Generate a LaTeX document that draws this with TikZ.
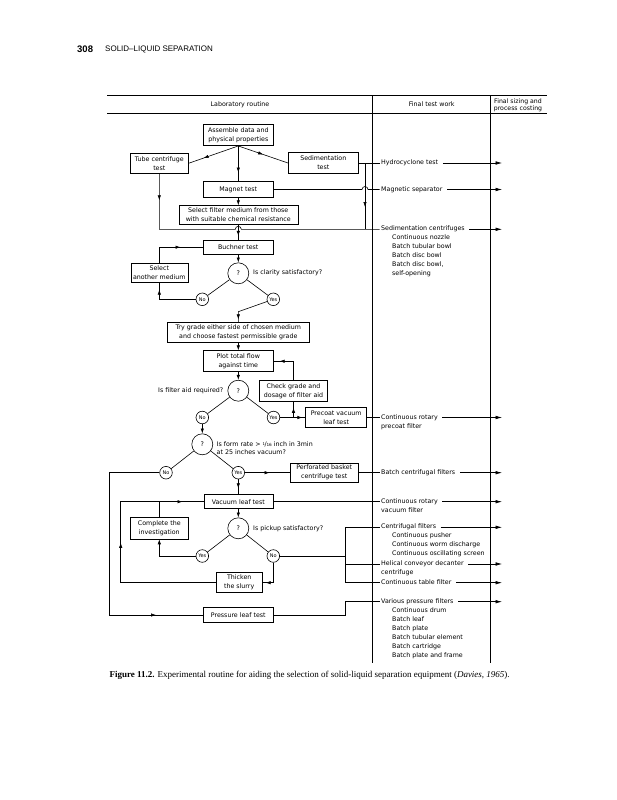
\documentclass[tikz,border=0pt]{standalone}
\usepackage{fontspec}
\usepackage{tikz}
\usetikzlibrary{arrows.meta,decorations.markings}
\setmainfont{Liberation Serif}
\newfontfamily\labfont{DejaVu Sans}
\newfontfamily\headfont{Liberation Sans}
\newcommand{\flowfont}{\labfont\fontsize{6.3}{9}\selectfont}
\newcommand{\smallflow}{\labfont\fontsize{5}{6}\selectfont}
\tikzset{
  box/.style={draw, line width=0.6pt, align=center, inner sep=0pt, font=\flowfont},
  ask/.style={draw, circle, line width=0.6pt, minimum size=21pt, inner sep=0pt, font=\flowfont},
  ans/.style={draw, circle, line width=0.6pt, minimum size=12.6pt, inner sep=0pt, font=\smallflow},
  lbl/.style={inner xsep=1.5pt, inner ysep=0pt, font=\flowfont, text height=4.6pt, text depth=1.3pt},
  flow/.style={line width=0.6pt},
  midarr/.style={postaction={decorate, decoration={markings, mark=at position #1 with {\arrow{Latex[length=5pt,width=3.4pt]}}}}},
  endarr/.style={-{Latex[length=5pt,width=3.4pt]}},
  outarr/.style={line width=0.6pt, -{Latex[length=6.5pt,width=3.6pt]}}
}
\begin{document}
\begin{tikzpicture}[x=1pt, y=-1pt]
              \useasboundingbox (0,0) rectangle (617,800);
              \fill[white] (0,0) rectangle (617,800);
              \node[anchor=west, inner sep=0pt, font=\headfont\bfseries\fontsize{9.5}{10}\selectfont] (pageno) at (77,49) {308};
              \node[anchor=west, inner sep=0pt, font=\headfont\fontsize{8}{10}\selectfont] (runhead) at (105,49) {SOLID–LIQUID SEPARATION};

              \coordinate (tl) at (107,95.5);
              \coordinate (tr) at (547,95.5);
              \coordinate (ml) at (107,113.5);
              \coordinate (mr) at (547,113.5);
              \coordinate (c2t) at (372.7,95.5);
              \coordinate (c2b) at (372.7,663.3);
              \coordinate (c3t) at (490.5,95.5);
              \coordinate (c3b) at (490.5,663.3);
              \coordinate (tip) at (502,0);
              \draw[line width=0.8pt] (tl) -- (tr);
              \draw[flow] (ml) -- (mr);
              \draw[flow] (c2t) -- (c2b);
              \draw[flow] (c3t) -- (c3b);
              \node[font=\flowfont] (labh) at (240,104.5) {Laboratory routine};
              \node[font=\flowfont] (testh) at (431.7,104.5) {Final test work};
              \node[font=\labfont\fontsize{6.2}{6.8}\selectfont, align=center, inner sep=0pt] (sizeh) at (518,105.3) {Final sizing and\\process costing};

              \node[box, minimum width=70pt, minimum height=21.7pt] (assemble) at (238.3,134.8) {Assemble data and\\physical properties};
              \node[box, minimum width=58pt, minimum height=20pt] (tube) at (159.3,163.3) {Tube centrifuge\\test};
              \node[box, minimum width=70pt, minimum height=20.6pt] (sed) at (323.3,163) {Sedimentation\\test};
              \node[box, minimum width=70pt, minimum height=15.6pt] (magnet) at (238.3,189.5) {Magnet test};
              \node[box, minimum width=119pt, minimum height=18.5pt] (select) at (238.3,214.8) {Select filter medium from those\\with suitable chemical resistance};
              \node[box, minimum width=70pt, minimum height=14.3pt] (buchner) at (238.3,247.2) {Buchner test};
              \node[box, minimum width=57pt, minimum height=19pt] (another) at (159.3,272.8) {Select\\another medium};
              \node[box, minimum width=142.6pt, minimum height=19.6pt] (trygrade) at (238.3,332.5) {Try grade either side of chosen medium\\and choose fastest permissible grade};
              \node[box, minimum width=70pt, minimum height=21pt] (plot) at (238.3,361.2) {Plot total flow\\against time};
              \node[box, minimum width=68.4pt, minimum height=20.3pt] (check) at (293.5,390.8) {Check grade and\\dosage of filter aid};
              \node[box, minimum width=61pt, minimum height=20pt] (precoat) at (336.2,417.5) {Precoat vacuum\\leaf test};
              \node[box, minimum width=68.3pt, minimum height=19.4pt] (perforated) at (324.2,472.7) {Perforated basket\\centrifuge test};
              \node[box, minimum width=69pt, minimum height=14pt] (vacuum) at (238.3,501.7) {Vacuum leaf test};
              \node[box, minimum width=58.3pt, minimum height=21.3pt] (complete) at (159.3,528.3) {Complete the\\investigation};
              \node[box, minimum width=46.3pt, minimum height=20pt] (thicken) at (239.2,582.7) {Thicken\\the slurry};
              \node[box, minimum width=70pt, minimum height=15.4pt] (pressure) at (238.3,615) {Pressure leaf test};

              \node[ask] (q1) at (238.3,273.3) {?};
              \node[ans] (no1) at (202.3,299.3) {No};
              \node[ans] (yes1) at (273.3,299.3) {Yes};
              \node[ask] (q2) at (238.3,390.7) {?};
              \node[ans] (no2) at (202.3,417.5) {No};
              \node[ans] (yes2) at (273.5,417.5) {Yes};
              \node[ask] (q3) at (202.3,444.3) {?};
              \node[ans] (no3) at (166,472.7) {No};
              \node[ans] (yes3) at (238.3,472.7) {Yes};
              \node[ask] (q4) at (238.3,528.3) {?};
              \node[ans] (yes4) at (202.3,556) {Yes};
              \node[ans] (no4) at (273.3,556) {No};

              \node[lbl, anchor=west] (clarity) at (251.5,273.3) {Is clarity satisfactory?};
              \node[lbl, anchor=east] (aidq) at (225,390.7) {Is filter aid required?};
              \node[lbl, anchor=west] (rate1) at (215,445) {Is form rate > \raisebox{1.6pt}{\fontsize{3.8}{4}\selectfont 1}\kern-0.3pt/\kern-0.3pt{\fontsize{4.2}{4}\selectfont 16} inch in 3min};
              \node[lbl, anchor=west] (rate2) at (215,453) {at 25 inches vacuum?};
              \node[lbl, anchor=west] (pickup) at (251.5,529) {Is pickup satisfactory?};

              \node[lbl, anchor=west] (hydro) at (379.5,163) {Hydrocyclone test};
              \node[lbl, anchor=west] (magsep) at (379.5,189.5) {Magnetic separator};
              \node[lbl, anchor=west] (sedc) at (379.5,229.3) {Sedimentation centrifuges};
              \foreach \t [count=\i] in {Continuous nozzle, Batch tubular bowl, Batch disc bowl, {Batch disc bowl,}, self-opening}
                \node[lbl, anchor=west] (sedi\i) at (390.5,229.3+9*\i) {\t};
              \node[lbl, anchor=west] (rotp) at (379.5,417.5) {Continuous rotary};
              \node[lbl, anchor=west] (rotp2) at (379.5,427) {precoat filter};
              \node[lbl, anchor=west] (batchc) at (379.5,472.7) {Batch centrifugal filters};
              \node[lbl, anchor=west] (vacf) at (379.5,501.7) {Continuous rotary};
              \node[lbl, anchor=west] (vacf2) at (379.5,510.7) {vacuum filter};
              \node[lbl, anchor=west] (centf) at (379.5,527.3) {Centrifugal filters};
              \foreach \t [count=\i] in {Continuous pusher, Continuous worm discharge, Continuous oscillating screen}
                \node[lbl, anchor=west] (centi\i) at (390.5,527.3+9*\i) {\t};
              \node[lbl, anchor=west] (helical) at (379.5,564) {Helical conveyor decanter};
              \node[lbl, anchor=west] (helical2) at (379.5,573.3) {centrifuge};
              \node[lbl, anchor=west] (table) at (379.5,582.7) {Continuous table filter};
              \node[lbl, anchor=west] (press) at (379.5,601.7) {Various pressure filters};
              \foreach \t [count=\i] in {Continuous drum, Batch leaf, Batch plate, Batch tubular element, Batch cartridge, Batch plate and frame}
                \node[lbl, anchor=west] (pressi\i) at (390.5,601.7+9*\i) {\t};

              \draw[flow, midarr=0.7] (assemble.south) -- (tube.east);
              \draw[flow, midarr=0.5] (assemble.south) -- (sed.west);
              \draw[flow, midarr=0.75] (assemble.south) -- (magnet.north);
              \draw[flow, midarr=26.7pt] (tube.south) -- (tube.south |- sedc.west) -- (235.3,229.3) arc[start angle=180, end angle=360, radius=3] -- (sedc.west);
              \draw[flow] (sed.east) -- (hydro.west);
              \coordinate (sedj) at (365,163);
              \coordinate (sedk) at (365,229.3);
              \draw[flow, midarr=44pt] (sedj) -- (sedk);
              \draw[flow] (magnet.east) -- (362,189.5) arc[start angle=180, end angle=360, radius=3] -- (magsep.west);
              \draw[flow, endarr] (magnet.south) -- (select.north);
              \draw[flow, midarr=0.75] (select.south) -- (buchner.north);
              \draw[flow, endarr] (buchner.south) -- (q1);
              \draw[flow] (q1) -- (no1);
              \draw[flow] (q1) -- (yes1);
              \draw[flow, midarr=-7pt] (no1.west) -- (no1.west -| another.south) -- (another.south);
              \draw[flow, midarr=37pt] (another.north) -- (another.north |- buchner.west) -- (buchner.west);
              \coordinate (kink1) at (238.3,311.7);
              \draw[flow, midarr=-3pt] (yes1) -- (kink1) -- (trygrade.north);
              \draw[flow, endarr] (trygrade.south) -- (plot.north);
              \draw[flow, endarr] (plot.south) -- (q2);
              \draw[flow] (q2) -- (no2);
              \draw[flow] (q2) -- (yes2);
              \draw[flow, midarr=-3pt] (yes2) -- (precoat.west);
              \coordinate (chkj) at (293.5,417.5);
              \draw[flow, midarr=0.6] (chkj) -- (check.south);
              \draw[flow, midarr=-6pt] (check.north) -- (check.north |- plot.east) -- (plot.east);
              \draw[flow] (precoat.east) -- (rotp.west);
              \draw[flow, endarr] (no2) -- (q3);
              \draw[flow] (q3) -- (no3);
              \draw[flow] (q3) -- (yes3);
              \draw[flow, midarr=0.55] (yes3) -- (perforated.west);
              \draw[flow] (perforated.east) -- (batchc.west);
              \draw[flow, midarr=0.6] (yes3) -- (vacuum.north);
              \coordinate (nol) at (109.3,472.7);
              \draw[flow, midarr=-47pt] (no3.west) -- (nol) -- (nol |- pressure.west) -- (pressure.west);
              \draw[flow] (vacuum.east) -- (vacf.west);
              \draw[flow, endarr] (vacuum.south) -- (q4);
              \draw[flow] (q4) -- (yes4);
              \draw[flow] (q4) -- (no4);
              \draw[flow, endarr] (yes4.west) -- (yes4.west -| complete.south) -- (complete.south);
              \draw[flow] (complete.north) -- (complete.north |- vacuum.west);
              \coordinate (cfj) at (345,527.3);
              \coordinate (hcj) at (345,564);
              \coordinate (tfj) at (345,582.7);
              \draw[flow] (cfj) -- (tfj);
              \draw[flow] (no4.east) -- (no4.east -| cfj);
              \draw[flow] (cfj) -- (centf.west);
              \draw[flow] (hcj) -- (helical.west);
              \draw[flow] (tfj) -- (table.west);
              \draw[flow, midarr=-3pt] (no4.south) -- (no4.south |- thicken.east) -- (thicken.east);
              \coordinate (loopl) at (120.7,582.7);
              \draw[flow, midarr=135pt, midarr=-21pt] (thicken.west) -- (loopl) -- (loopl |- vacuum.west) -- (vacuum.west);
              \coordinate (prj) at (345,615);
              \draw[flow] (pressure.east) -- (prj) -- (prj |- press.west) -- (press.west);

              \draw[outarr] ([xshift=3pt]hydro.east) -- (hydro.east -| tip);
              \draw[outarr] ([xshift=3pt]magsep.east) -- (magsep.east -| tip);
              \draw[outarr] ([xshift=3pt]sedc.east) -- (sedc.east -| tip);
              \draw[outarr] ([xshift=3pt]rotp.east) -- (rotp.east -| tip);
              \draw[outarr] ([xshift=3pt]batchc.east) -- (batchc.east -| tip);
              \draw[outarr] ([xshift=3pt]vacf.east) -- (vacf.east -| tip);
              \draw[outarr] ([xshift=3pt]centf.east) -- (centf.east -| tip);
              \draw[outarr] ([xshift=3pt]helical.east) -- (helical.east -| tip);
              \draw[outarr] ([xshift=3pt]table.east) -- (table.east -| tip);
              \draw[outarr] ([xshift=3pt]press.east) -- (press.east -| tip);

              \node[anchor=west, inner sep=0pt, font=\fontsize{9}{10}\selectfont] (caption) at (109.3,675) {\textbf{Figure 11.2.} Experimental routine for aiding the selection of solid-liquid separation equipment (\textit{Davies, 1965}).};
       \end{tikzpicture}
\end{document}
